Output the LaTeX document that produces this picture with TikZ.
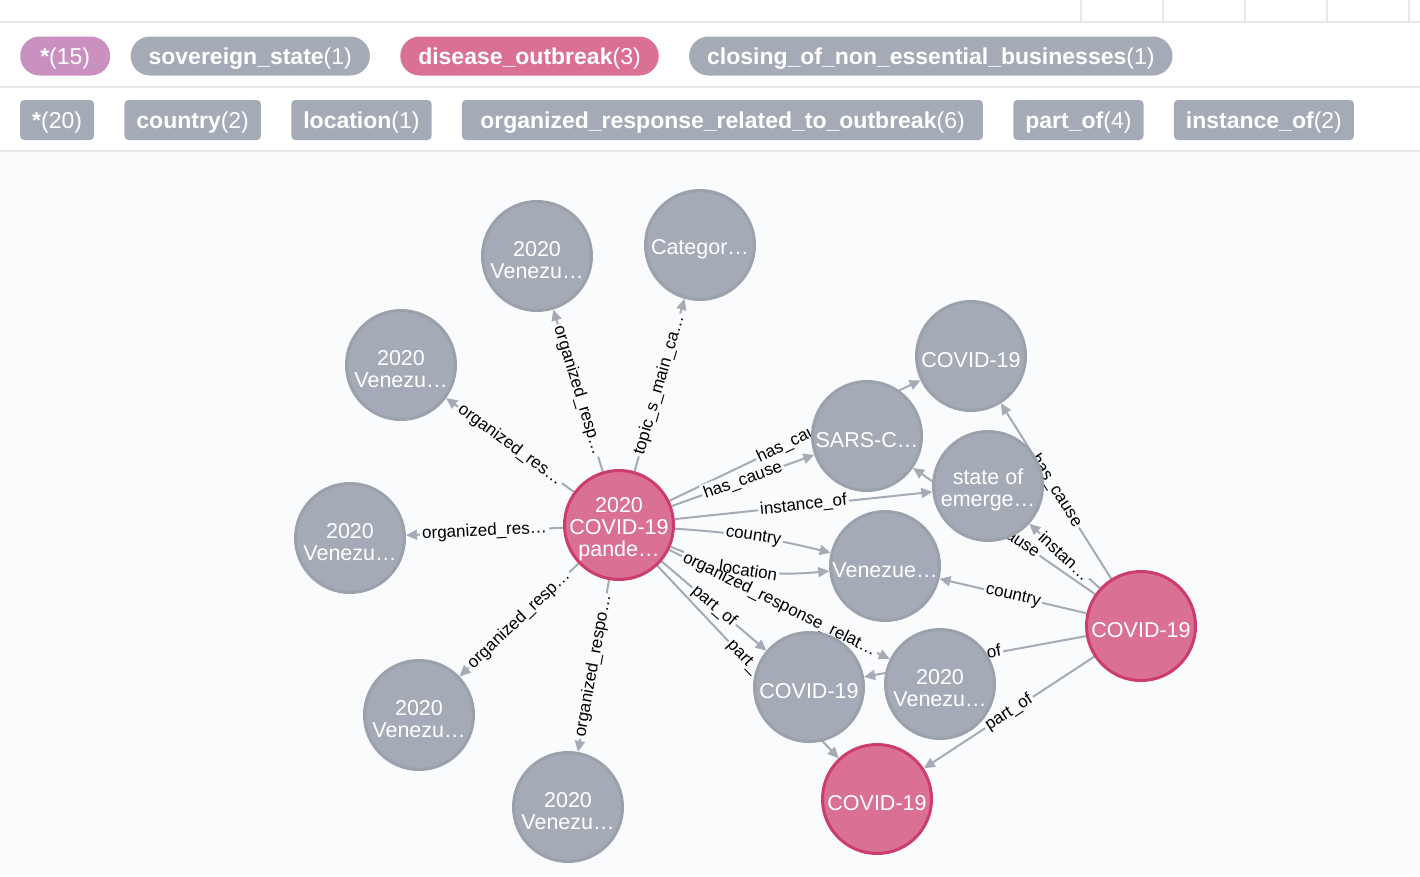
\documentclass[tikz,border=0pt]{standalone}
\usepackage{fontspec}
\setmainfont{Liberation Sans}
\usepackage{tikz}
\usetikzlibrary{arrows.meta, positioning}
\definecolor{canvasbg}{RGB}{249, 251, 253}
\definecolor{rulegray}{RGB}{230, 232, 237}
\definecolor{nodegray}{RGB}{165, 171, 182}
\definecolor{nodegrayline}{RGB}{154, 161, 172}
\definecolor{outbreak}{RGB}{218, 113, 148}
\definecolor{outbreakline}{RGB}{204, 60, 108}
\definecolor{allnodes}{RGB}{201, 144, 192}
\definecolor{relgray}{RGB}{165, 171, 182}
\pgfdeclarelayer{backdrop}
\pgfdeclarelayer{edges}
\pgfdeclarelayer{edgetext}
\pgfsetlayers{backdrop,edges,edgetext,main}
\def\relations{%
  pandemic/respN/organized\_resp…/0,
  pandemic/category/topic\_s\_main\_ca…/0,
  pandemic/respNW/organized\_res…/0,
  pandemic/respW/organized\_res…/0,
  pandemic/respSW/organized\_resp…/0,
  pandemic/respS/organized\_respo…/0,
  pandemic/covidtop/has\_cause/0,
  pandemic/sars/has\_cause/0,
  pandemic/emergency/instance\_of/0,
  pandemic/venezuela/country/5,
  pandemic/venezuela/location/-14,
  pandemic/respE/organized\_response\_relat…/0,
  pandemic/covidmid/part\_of/0,
  pandemic/covidbottom/part\_of/0,
  covidright/covidtop/has\_cause/0,
  covidright/emergency/instan…/0,
  covidright/sars/has\_cause/0,
  covidright/venezuela/country/0,
  covidright/covidmid/part\_of/0,
  covidright/covidbottom/part\_of/0}

\begin{document}
\begin{tikzpicture}[
      x=1pt, y=1pt,
      nlines/.style={execute at begin node=
                     {\rule{0pt}{\dimexpr 22pt*#1+1pt\relax}}},
      ent/.style={circle, minimum size=109pt, inner sep=0pt,
                  line width=3pt, text=white, align=center,
                  nlines=1, font=\fontsize{21.5}{22}\selectfont},
      gent/.style={ent, fill=nodegray, draw=nodegrayline},
      pent/.style={ent, fill=outbreak, draw=outbreakline},
      rel/.style={draw=relgray, line width=2pt,
                  -{Triangle[length=11pt, width=10pt]}},
      lblmask/.style={sloped, fill=canvasbg, inner sep=2pt,
                      font=\fontsize{17}{19}\selectfont},
      lbl/.style={sloped, inner sep=2pt, text=black,
                  font=\fontsize{17}{19}\selectfont},
      pill/.style={rounded corners=19.5pt, minimum height=39pt,
                   minimum width=90pt, inner xsep=18pt, text=white,
                   anchor=west, text depth=0pt,
                   font=\fontsize{23}{26}\selectfont},
      tag/.style={rounded corners=4pt, minimum height=40pt,
                  inner xsep=12pt, fill=nodegray, text=white,
                  anchor=west, text depth=0pt,
                  font=\fontsize{23}{26}\selectfont},
  ]
  \useasboundingbox (0,0) rectangle (1420,-876);
  \begin{pgfonlayer}{backdrop}
    \fill[white] (0,0) rectangle (1420,-152);
    \fill[canvasbg] (0,-152) rectangle (1420,-876);
    \draw[rulegray, line width=2pt] (0,-22) -- (1420,-22);
    \draw[rulegray, line width=2pt] (0,-87) -- (1420,-87);
    \draw[rulegray, line width=2pt] (0,-151) -- (1420,-151);
    \foreach \x in {1081,1163,1245,1327,1409}
      \draw[rulegray, line width=2pt] (\x,0) -- (\x,-22);
  \end{pgfonlayer}

  % node labels
  \node[pill, fill=allnodes] (lnall) at (20,-56) {\textbf{*}(15)};
  \node[pill, fill=nodegray, right=20pt of lnall] (lnsov)
      {\textbf{sovereign\_state}(1)};
  \node[pill, fill=outbreak, right=30pt of lnsov] (lnoutbreak)
      {\textbf{disease\_outbreak}(3)};
  \node[pill, fill=nodegray, right=30pt of lnoutbreak] (lnclosing)
      {\textbf{closing\_of\_non\_essential\_businesses}(1)};

  % relationship types
  \node[tag] (lrall) at (20,-120) {\textbf{*}(20)};
  \node[tag, right=30pt of lrall] (lrcountry) {\textbf{country}(2)};
  \node[tag, right=30pt of lrcountry] (lrlocation) {\textbf{location}(1)};
  \node[tag, right=30pt of lrlocation, minimum width=521pt] (lrresponse)
      {\textbf{organized\_response\_related\_to\_outbreak}(6)};
  \node[tag, right=30pt of lrresponse] (lrpartof) {\textbf{part\_of}(4)};
  \node[tag, right=30pt of lrpartof] (lrinstance) {\textbf{instance\_of}(2)};

  % graph
  \node[pent, nlines=3, inner sep=-7pt] (pandemic) at (619,-525)
      {2020\\COVID-19\\pande…};
  \node[gent, nlines=2] (respN) at (537,-256) {2020\\Venezu…};
  \node[gent] (category) at (700,-245) {Categor…};
  \node[gent, nlines=2] (respNW) at (401,-365) {2020\\Venezu…};
  \node[gent, nlines=2] (respW) at (350,-538) {2020\\Venezu…};
  \node[gent, nlines=2] (respSW) at (419,-715) {2020\\Venezu…};
  \node[gent, nlines=2] (respS) at (568,-807) {2020\\Venezu…};
  \node[gent] (sars) at (867,-436) {SARS-C…};
  \node[gent] (covidtop) at (971,-356) {COVID-19};
  \node[gent, nlines=2] (emergency) at (988,-486) {state of\\emerge…};
  \node[gent] (venezuela) at (885,-566) {Venezue…};
  \node[gent] (covidmid) at (809,-687) {COVID-19};
  \node[gent, nlines=2] (respE) at (940,-684) {2020\\Venezu…};
  \node[pent] (covidright) at (1141,-626) {COVID-19};
  \node[pent] (covidbottom) at (877,-799) {COVID-19};

  \begin{pgfonlayer}{edges}
    \foreach \src/\dst/\txt/\bend in \relations
      \draw[rel] (\src) to[bend left=\bend]
          node[lblmask] {\phantom{\txt}} (\dst);
  \end{pgfonlayer}
  \begin{pgfonlayer}{edgetext}
    \foreach \src/\dst/\txt/\bend in \relations
      \path (\src) to[bend left=\bend] node[lbl] {\txt} (\dst);
  \end{pgfonlayer}
\end{tikzpicture}
\end{document}
